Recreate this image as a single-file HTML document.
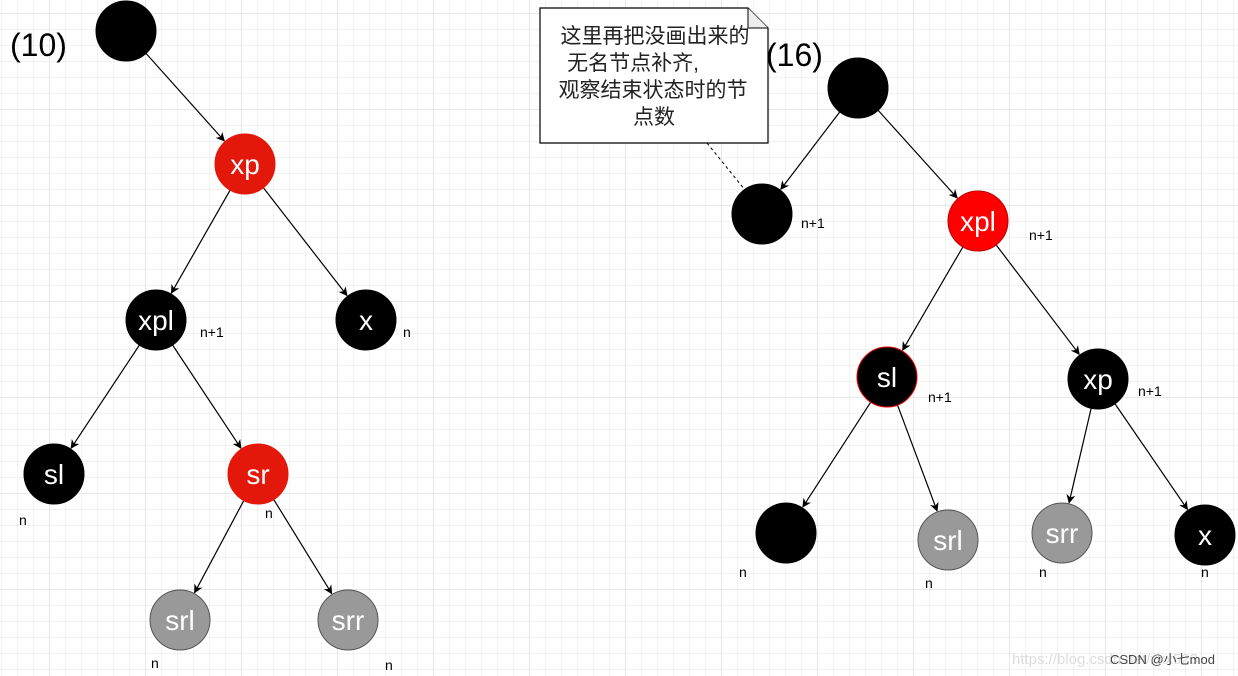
<!DOCTYPE html>
<html><head><meta charset="utf-8"><style>
html,body{margin:0;padding:0;background:#fff;}
svg{display:block;}
</style></head><body>
<svg id="s" width="1238" height="676" xmlns="http://www.w3.org/2000/svg" font-family="Liberation Sans, Arial, sans-serif">
<defs>
<pattern id="g1" width="16" height="16" patternUnits="userSpaceOnUse" x="1" y="13"><path d="M0 0H16M0 0V16" stroke="#e6e6e6" stroke-width="1" fill="none"/></pattern>
<pattern id="g2" width="96" height="96" patternUnits="userSpaceOnUse" x="49" y="13"><path d="M0 0H96M0 0V96" stroke="#d2d2d2" stroke-width="1" fill="none"/></pattern>
<marker id="a" viewBox="0 0 10 10" refX="9" refY="5" markerWidth="9" markerHeight="9" orient="auto" markerUnits="userSpaceOnUse"><path d="M0 0L10 5L0 10L3 5Z" fill="#000"/></marker>
</defs>
<rect width="1238" height="676" fill="url(#g1)"/>
<rect width="1238" height="676" fill="url(#g2)"/>
<g id="edges" stroke="#000" stroke-width="1.2"></g>
<g id="nodes"></g>
<text x="10" y="56" font-size="32">(10)</text>
<text x="766" y="66" font-size="32">(16)</text>
<path d="M540 8H748L768 28V143H540Z" fill="#fff" stroke="#000" stroke-width="1.2"/>
<path d="M748 8V28H768" fill="#eee" stroke="#000" stroke-width="1"/>
<g font-family="Liberation Sans, Noto Sans CJK SC, sans-serif" font-size="21" text-anchor="middle" fill="#222">
<text x="655" y="43">这里再把没画出来的</text>
<text x="633" y="70">无名节点补齐,</text>
<text x="653" y="97">观察结束状态时的节</text>
<text x="654" y="124">点数</text>
</g>
<line x1="707" y1="143" x2="745" y2="190" stroke="#000" stroke-dasharray="3,3"/>
<g font-size="14" fill="#000">
<text x="200" y="337">n+1</text><text x="403" y="337">n</text>
<text x="19" y="525">n</text><text x="265" y="518">n</text>
<text x="151" y="668">n</text><text x="385" y="670">n</text>
<text x="801" y="228">n+1</text><text x="1029" y="240">n+1</text>
<text x="928" y="402">n+1</text><text x="1138" y="396">n+1</text>
<text x="739" y="577">n</text><text x="925" y="588">n</text>
<text x="1039" y="577">n</text><text x="1201" y="577">n</text>
</g>
<text x="1012" y="664" font-size="15" fill="#ddd">https://blog.csdn.net/xxx523</text>
<text x="1110" y="664" font-size="13" fill="#444">CSDN @小七mod</text>
</svg>
<script>
var N={
a:[126,31,'#000','',0],b:[245,164,'#e3170a','xp',0],c:[156,320,'#000','xpl',0],d:[366,320,'#000','x',0],
e:[54,474,'#000','sl',0],f:[258,474,'#e3170a','sr',0],g:[180,620,'#999','srl',1],h:[348,620,'#999','srr',1],
A:[858,88,'#000','',0],B:[762,214,'#000','',0],C:[978,221,'#f00','xpl',2],D:[887,377,'#000','sl',3],
E:[1098,379,'#000','xp',0],F:[786,533,'#000','',0],G:[948,540,'#999','srl',1],H:[1062,533,'#999','srr',1],I:[1205,535,'#000','x',0]};
var E=[['a','b'],['b','c'],['b','d'],['c','e'],['c','f'],['f','g'],['f','h'],['A','B'],['A','C'],['C','D'],['C','E'],['D','F'],['D','G'],['E','H'],['E','I']];
var ns='http://www.w3.org/2000/svg',r=30;
function el(t,at,p){var e=document.createElementNS(ns,t);for(var k in at)e.setAttribute(k,at[k]);p.appendChild(e);return e;}
var eg=document.getElementById('edges'),ng=document.getElementById('nodes');
E.forEach(function(p){var u=N[p[0]],v=N[p[1]],dx=v[0]-u[0],dy=v[1]-u[1],L=Math.hypot(dx,dy);
el('line',{x1:u[0]+dx/L*r,y1:u[1]+dy/L*r,x2:v[0]-dx/L*(r+1),y2:v[1]-dy/L*(r+1),'marker-end':'url(#a)'},eg);});
for(var k in N){var n=N[k];var st=n[4]==1?'#555':n[4]==2?'#b00':n[4]==3?'#e00':n[2];
el('circle',{cx:n[0],cy:n[1],r:r,fill:n[2],stroke:st,'stroke-width':1},ng);
if(n[3]){var t=el('text',{x:n[0],y:n[1]+10,'text-anchor':'middle','font-size':28,fill:'#fff'},ng);t.textContent=n[3];}}
</script>
</body></html>
